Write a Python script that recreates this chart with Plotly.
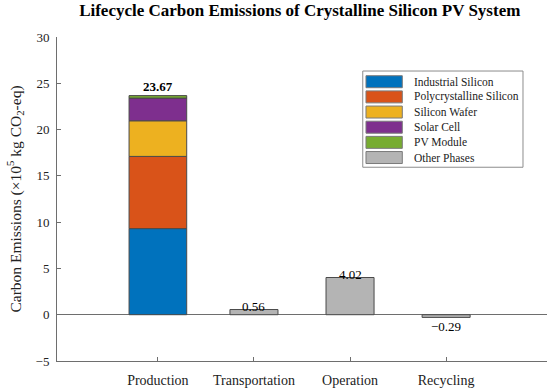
import plotly.graph_objects as go

categories = ["Production", "Transportation", "Operation", "Recycling"]
production_parts = ["Industrial Silicon", "Polycrystalline Silicon", "Silicon Wafer", "Solar Cell", "PV Module"]
production_values = [9.30, 7.80, 3.85, 2.45, 0.27]
production_total = 23.67
other_phase_name = "Other Phases"
other_phase_values = [0.56, 4.02, -0.29]  # Transportation, Operation, Recycling
part_colors = ["#0072BD", "#D95319", "#EDB120", "#7E2F8E", "#77AC30"]
other_color = "#B4B4B4"
y_ticks = [-5, 0, 5, 10, 15, 20, 25, 30]

FONT = "Liberation Serif, Times New Roman, serif"
EDGE = "#4a4a4a"
AXIS = "#6e6e6e"
xpos = list(range(1, len(categories) + 1))

fig = go.Figure()
for name, val, col in zip(production_parts, production_values, part_colors):
    fig.add_trace(go.Bar(
        x=[xpos[0]], y=[val], name=name, width=0.6, showlegend=False,
        marker=dict(color=col, line=dict(color=EDGE, width=1)),
    ))
fig.add_trace(go.Bar(
    x=xpos[1:], y=other_phase_values, name=other_phase_name, width=0.5, showlegend=False,
    marker=dict(color=other_color, line=dict(color=EDGE, width=1)),
))

annotations = [dict(x=xpos[0], y=production_total, text="<b>%.2f</b>" % production_total,
                    showarrow=False, yanchor="bottom", yshift=0,
                    font=dict(family=FONT, size=13, color="black"))]
for xp, v in zip(xpos[1:], other_phase_values):
    txt = ("%.2f" % v).replace("-", "\u2212")
    if v >= 0:
        annotations.append(dict(x=xp, y=v, text=txt, showarrow=False, yanchor="middle", yshift=3,
                                font=dict(family=FONT, size=13, color="black")))
    else:
        annotations.append(dict(x=xp, y=v, text=txt, showarrow=False, yanchor="top", yshift=0,
                                font=dict(family=FONT, size=13, color="black")))

# legend drawn as a boxed key (paper coordinates)
shapes = [dict(type="rect", xref="paper", yref="paper", x0=0.624, x1=0.951, y0=0.598, y1=0.895,
               line=dict(color="#8c8c8c", width=1), fillcolor="white", layer="above")]
leg_names = production_parts + [other_phase_name]
leg_colors = part_colors + [other_color]
y_start, step, sw_h = 0.862, 0.0468, 0.037
for i, (nm, col) in enumerate(zip(leg_names, leg_colors)):
    yc = y_start - i * step
    shapes.append(dict(type="rect", xref="paper", yref="paper", x0=0.6306, x1=0.7047,
                       y0=yc - sw_h / 2, y1=yc + sw_h / 2,
                       line=dict(color="#7a7a7a", width=1), fillcolor=col, layer="above"))
    annotations.append(dict(xref="paper", yref="paper", x=0.7255, y=yc, text=nm, showarrow=False,
                            xanchor="left", yanchor="middle",
                            font=dict(family=FONT, size=11.5, color="#222222")))

fig.update_layout(
    width=550, height=391,
    barmode="relative",
    plot_bgcolor="white", paper_bgcolor="white",
    margin=dict(l=57, r=3, t=37, b=30),
    font=dict(family=FONT, size=13, color="#222222"),
    title=dict(text="<b>Lifecycle Carbon Emissions of Crystalline Silicon PV System</b>",
               x=0.545, xanchor="center", y=0.974, yanchor="middle",
               font=dict(family=FONT, size=17, color="black")),
    showlegend=False,
    annotations=annotations,
    shapes=shapes,
    xaxis=dict(range=[-0.05, 5.05], tickvals=xpos, ticktext=categories,
               tickfont=dict(family=FONT, size=14, color="#222222"),
               ticklabelstandoff=6,
               showline=True, linecolor=AXIS, linewidth=1,
               ticks="inside", ticklen=4, tickcolor=AXIS,
               showgrid=False, zeroline=False, mirror=False),
    yaxis=dict(range=[-5, 30], tickvals=y_ticks,
               tickfont=dict(family=FONT, size=13, color="#222222"),
               ticklabelstandoff=4,
               showline=True, linecolor=AXIS, linewidth=1,
               ticks="inside", ticklen=4, tickcolor=AXIS,
               showgrid=False, zeroline=True, zerolinecolor=AXIS, zerolinewidth=1,
               title=dict(text="Carbon Emissions (\u00d710<sup>5</sup> kg CO<sub>2</sub>-eq)",
                          standoff=10, font=dict(family=FONT, size=15.5, color="#222222"))),
)

fig.write_html("out.html", config={"displayModeBar": False},
               post_script="document.body.style.margin='0';")
